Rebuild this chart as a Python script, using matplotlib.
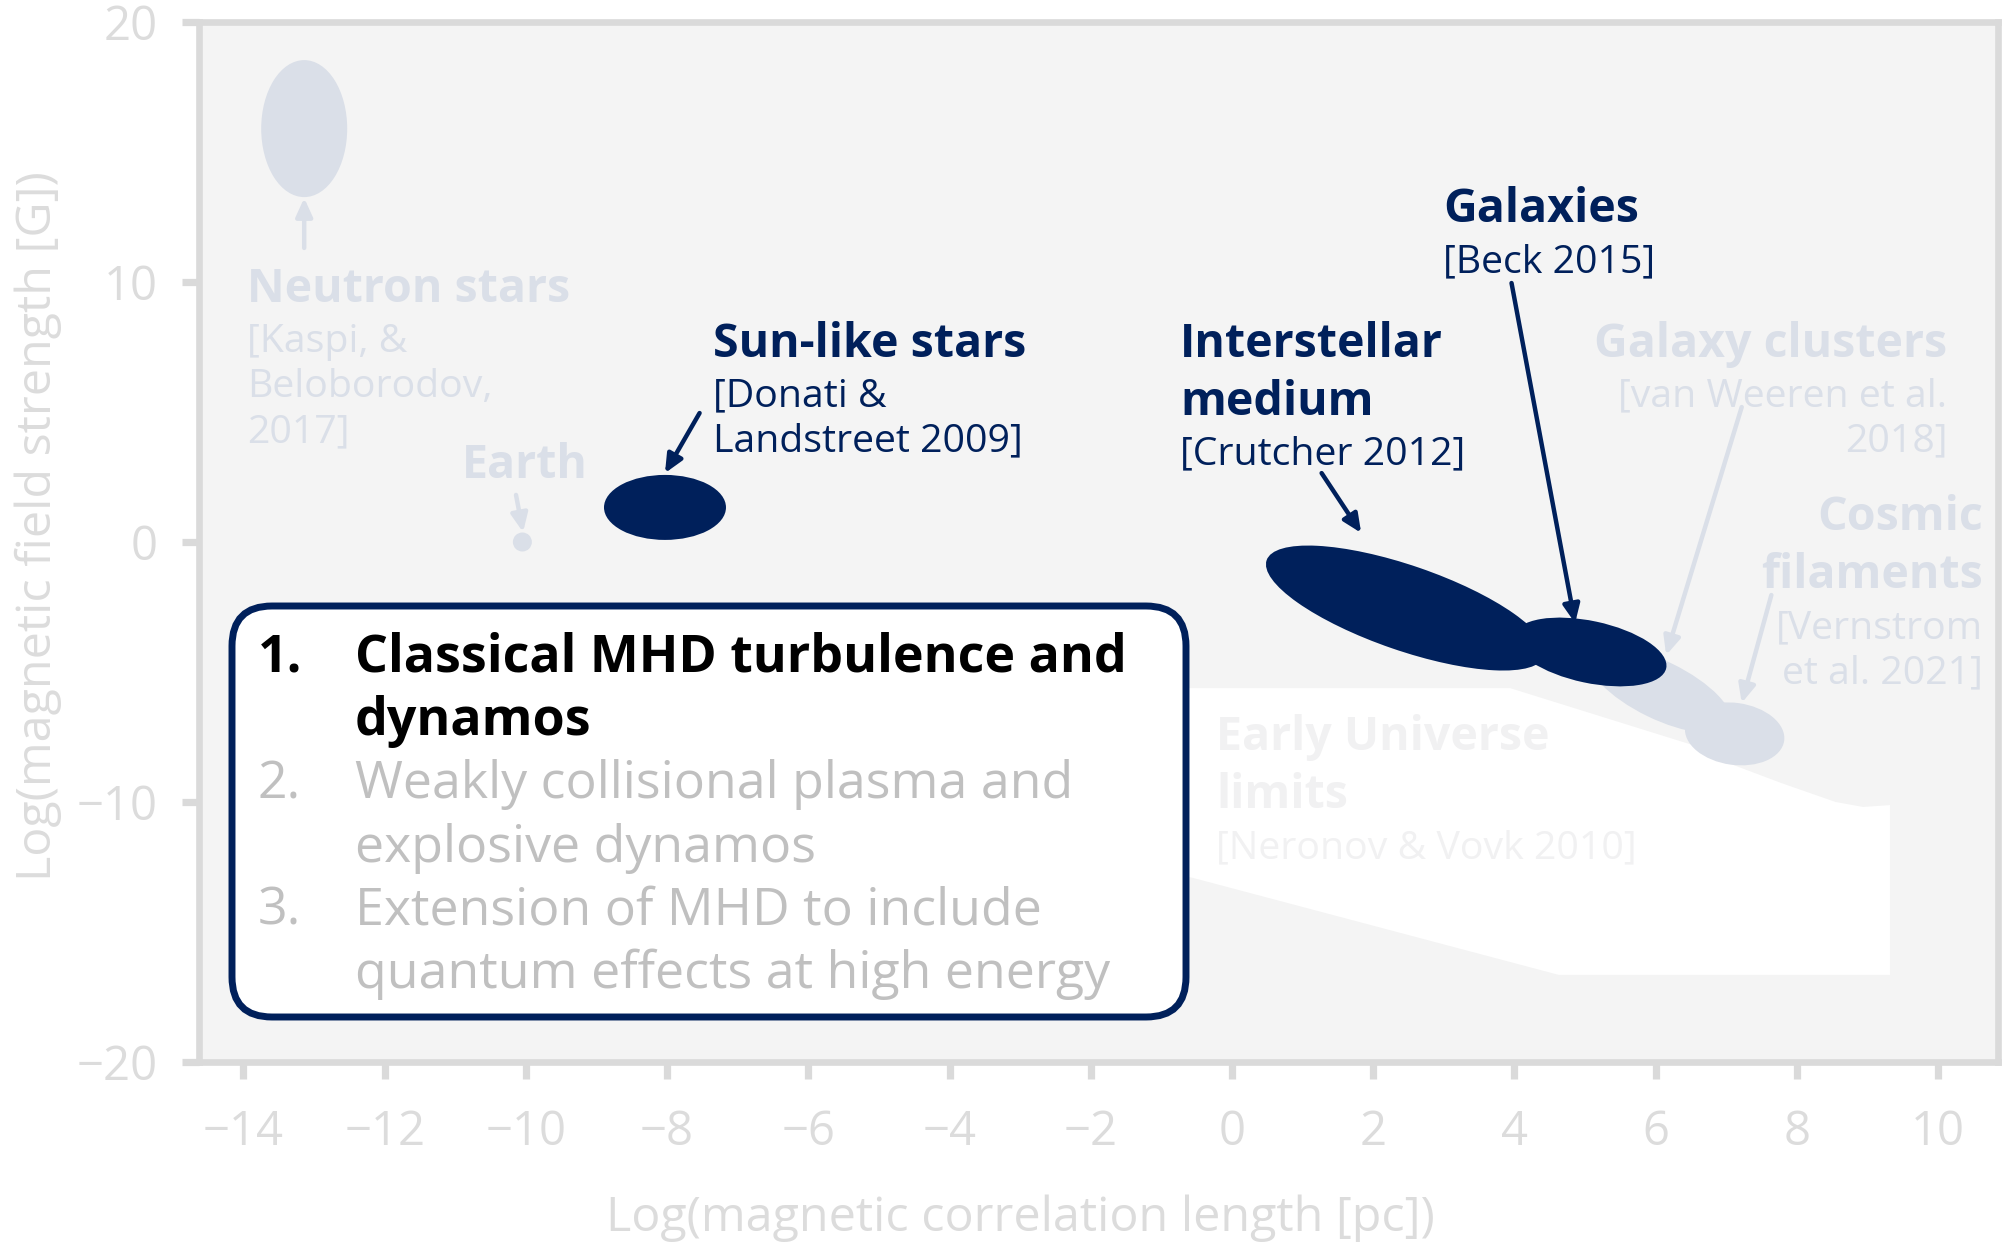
import matplotlib
matplotlib.use('Agg')
import matplotlib.pyplot as plt
from matplotlib.patches import Ellipse, Polygon, FancyBboxPatch
from matplotlib.transforms import ScaledTranslation

plt.rcParams['font.family'] = ['Open Sans', 'DejaVu Sans']

DPI = 100
NAVY = '#00205b'
LIGHT = '#dadfe8'
AXIS = '#dadada'
TICKTXT = '#dcdcdc'
BG = '#f4f4f4'
FAINT = '#f1f1f2'

# ---------------- data ----------------
x_ticks = [-14, -12, -10, -8, -6, -4, -2, 0, 2, 4, 6, 8, 10]
y_ticks = [-20, -10, 0, 10, 20]

titles = [['Neutron stars'], ['Earth'], ['Sun-like stars'], ['Interstellar', 'medium'],
          ['Galaxies'], ['Galaxy clusters'], ['Cosmic', 'filaments']]
refs = [['[Kaspi, &', 'Beloborodov,', '2017]'], [], ['[Donati &', 'Landstreet 2009]'],
        ['[Crutcher 2012]'], ['[Beck 2015]'], ['[van Weeren et al.', '2018]'],
        ['[Vernstrom', 'et al. 2021]']]
log_length = [-13.14, -10.05, -8.03, 2.46, 5.07, 6.06, 7.12]
log_field = [15.9, 0.0, 1.33, -2.54, -4.23, -5.69, -7.38]
highlighted = [False, False, True, True, True, False, False]

arrow_from_x = [-13.14, -10.14, -7.54, 1.27, 3.96, 7.22, 7.64]
arrow_from_y = [11.31, 1.81, 4.96, 2.65, 9.96, 5.19, -2.04]
arrow_to_x = [-13.14, -10.04, -8.03, 1.83, 4.86, 6.15, 7.22]
arrow_to_y = [13.23, 0.38, 2.65, 0.35, -3.12, -4.35, -6.19]

limit_x = [-4.0, 3.94, 6.615, 6.91, 7.78, 8.55, 8.94, 9.32, 9.32, 4.63, -0.55, -4.0]
limit_y = [-5.62, -5.62, -7.885, -8.38, -9.27, -10.0, -10.19, -10.12, -16.65, -16.65, -12.92, -11.15]
limit_title = ['Early Universe', 'limits']
limit_ref = ['[Neronov & Vovk 2010]']

box_numbers = ['1.', '2.', '3.']
box_items = [['Classical MHD turbulence and', 'dynamos'],
             ['Weakly collisional plasma and', 'explosive dynamos'],
             ['Extension of MHD to include', 'quantum effects at high energy']]
box_active = [True, False, False]

# ---------------- layout / style ----------------
ell_w_px = [86, 19, 122, 294, 156, 156, 100]
ell_h_px = [137, 19, 65, 85, 62, 58, 62]
ell_ang = [0, 0, 0, -19, -12, -26, -8]
draw_order = [0, 1, 5, 6, 2, 3, 4]

label_x = [-13.95, -10.91, -7.35, -0.735, 2.99, 10.13, 10.64]
label_y = [9.23, 2.46, 7.12, 7.12, 12.31, 7.12, 0.46]
label_ha = ['left', 'left', 'left', 'left', 'left', 'right', 'right']

TITLE_FS = 33.5
REF_FS = 28.3
TICK_FS = 34
AXLABEL_FS = 34.8
BOX_FS = 37.4

fig = plt.figure(figsize=(20.10, 12.43), dpi=DPI)
ax = fig.add_axes([199 / 2010, 1 - 1062 / 1243, (1998 - 199) / 2010, (1062 - 22) / 1243])
ax.set_facecolor(BG)
ax.set_xlim(-14.63, 10.85)
ax.set_ylim(-20, 20)
ax.set_xticks(x_ticks)
ax.set_yticks(y_ticks)
for s in ax.spines.values():
    s.set_color(AXIS)
    s.set_linewidth(4.8)
ax.tick_params(axis='both', direction='out', length=12, width=5.2, color=AXIS,
               labelcolor=TICKTXT, labelsize=TICK_FS, pad=17.5)
ax.tick_params(axis='x', pad=21.5)
ax.set_xlabel('Log(magnetic correlation length [pc])', fontsize=AXLABEL_FS, color=TICKTXT)
ax.set_ylabel('Log(magnetic field strength [G])', fontsize=AXLABEL_FS, color=TICKTXT)
ax.xaxis.label.set_va('center')
ax.yaxis.label.set_va('center')
ax.xaxis.set_label_coords((1020 - 199) / 1799, (1062 - 1218) / 1040)
ax.yaxis.set_label_coords((38 - 199) / 1799, (1062 - 526) / 1040)

# early universe limits region
ax.add_patch(Polygon(list(zip(limit_x, limit_y)), closed=True, fc='white', ec='none', zorder=1))


def offset(dy_px):
    return ax.transData + ScaledTranslation(0, -dy_px / DPI, fig.dpi_scale_trans)


def put_label(x, y, tlines, rlines, color, ha):
    off = 0
    for t in tlines:
        ax.text(x, y, t, transform=offset(off), fontsize=TITLE_FS, fontweight='bold',
                color=color, ha=ha, va='baseline', zorder=6)
        off += 58
    off = off - 58 + 50
    for r in rlines:
        ax.text(x, y, r, transform=offset(off), fontsize=REF_FS, color=color,
                ha=ha, va='baseline', zorder=6)
        off += 45


put_label(-0.225, -8.0, limit_title, limit_ref, FAINT, 'left')

# regions
for i in draw_order:
    col = NAVY if highlighted[i] else LIGHT
    tr = fig.dpi_scale_trans + ScaledTranslation(log_length[i], log_field[i], ax.transData)
    e = Ellipse((0, 0), ell_w_px[i] / DPI, ell_h_px[i] / DPI, angle=ell_ang[i],
                transform=tr, fc=col, ec='none', zorder=4 if highlighted[i] else 3)
    ax.add_patch(e)

for i in range(len(titles)):
    col = NAVY if highlighted[i] else LIGHT
    ax.annotate('', xy=(arrow_to_x[i], arrow_to_y[i]), xytext=(arrow_from_x[i], arrow_from_y[i]),
                arrowprops=dict(arrowstyle='-|>,head_length=0.55,head_width=0.25', color=col,
                                lw=3.2, mutation_scale=20, shrinkA=0, shrinkB=0),
                zorder=5)
    put_label(label_x[i], label_y[i], titles[i], refs[i], col, label_ha[i])

# research themes box
box = FancyBboxPatch((2.32, 2.26), 9.54, 4.11, boxstyle='round,pad=0,rounding_size=0.4',
                     transform=fig.dpi_scale_trans, fc='white', ec=NAVY, lw=5, zorder=10)
fig.add_artist(box)
base_px = 672
step = 63.2
k = 0
for num, lines, act in zip(box_numbers, box_items, box_active):
    col = 'black' if act else '#c0c0c0'
    wt = 'bold' if act else 'normal'
    for j, ln in enumerate(lines):
        yb = (1243 - (base_px + k * step)) / DPI
        if j == 0:
            fig.text(2.58, yb, num, transform=fig.dpi_scale_trans, fontsize=BOX_FS,
                     fontweight=wt, color=col, va='baseline', ha='left', zorder=11)
        fig.text(3.55, yb, ln, transform=fig.dpi_scale_trans, fontsize=BOX_FS,
                 fontweight=wt, color=col, va='baseline', ha='left', zorder=11)
        k += 1

fig.savefig('out.png', dpi=DPI, facecolor='white')
